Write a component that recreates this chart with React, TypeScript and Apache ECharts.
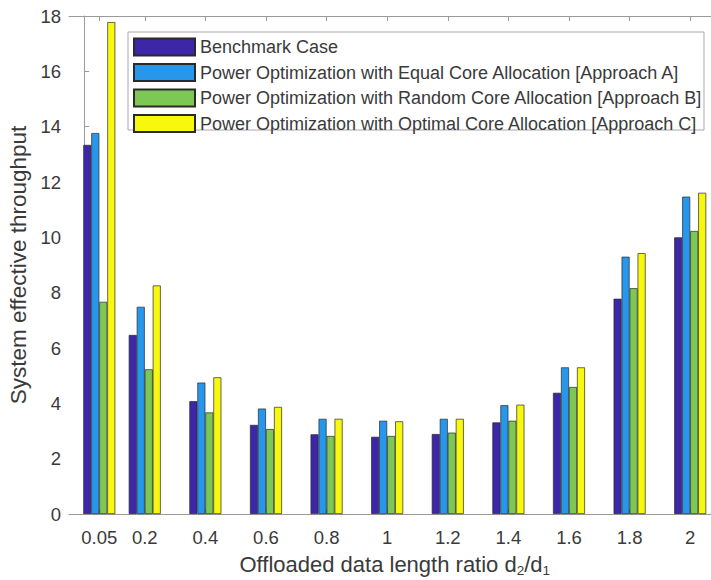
import React, { useEffect, useRef } from "react";
import * as echarts from "echarts";

const ratios = [0.05, 0.2, 0.4, 0.6, 0.8, 1, 1.2, 1.4, 1.6, 1.8, 2];
const benchmark = [13.34, 6.47, 4.08, 3.22, 2.88, 2.79, 2.89, 3.31, 4.38, 7.78, 10.0];
const approachA = [13.77, 7.49, 4.75, 3.81, 3.44, 3.37, 3.44, 3.93, 5.3, 9.3, 11.47];
const approachB = [7.67, 5.23, 3.67, 3.07, 2.82, 2.82, 2.94, 3.37, 4.59, 8.16, 10.23];
const approachC = [17.78, 8.26, 4.94, 3.87, 3.44, 3.35, 3.44, 3.95, 5.3, 9.43, 11.61];
const yTicks = [0, 2, 4, 6, 8, 10, 12, 14, 16, 18];

const seriesNames = [
  "Benchmark Case",
  "Power Optimization with Equal Core Allocation [Approach A]",
  "Power Optimization with Random Core Allocation [Approach B]",
  "Power Optimization with Optimal Core Allocation [Approach C]",
];
const seriesValues = [benchmark, approachA, approachB, approachC];
const colors = ["#3e26a8", "#2797eb", "#7dc855", "#f7f80e"];

const FONT = "Liberation Sans, Arial, Helvetica, sans-serif";
const AXIS_COLOR = "#9a9a9a";
const TEXT_COLOR = "#3a3a3a";

export default function App() {
  const ref = useRef<HTMLDivElement>(null);
  useEffect(() => {
    document.body.style.margin = "0";
    if (!ref.current) return;
    const chart = echarts.init(ref.current, undefined, { renderer: "svg" });
    const option: any = {
      animation: false,
      backgroundColor: "#ffffff",
      textStyle: { fontFamily: FONT },
      grid: { left: 69, right: -9.5, top: 16, bottom: 66, containLabel: false, outerBoundsMode: "none" },
      legend: {
        orient: "vertical",
        left: 133,
        top: 37.5,
        padding: 0,
        itemWidth: 61,
        itemHeight: 17,
        itemGap: 6.5,
        icon: "rect",
        textStyle: { fontFamily: FONT, fontSize: 18, color: TEXT_COLOR },
        data: seriesNames,
      },
      graphic: [
        {
          type: "rect",
          z: 0,
          shape: { x: 128, y: 32, width: 576, height: 98 },
          style: { fill: "#ffffff", stroke: "#a8a8a8", lineWidth: 1 },
        },
      ],
      xAxis: [
        {
          type: "value",
          min: -0.05,
          max: 2.1,
          position: "bottom",
          splitLine: { show: false },
          axisLine: { show: true, lineStyle: { color: AXIS_COLOR, width: 1 } },
          axisTick: { show: true, inside: true, length: 5, customValues: ratios, lineStyle: { color: AXIS_COLOR } },
          axisLabel: {
            show: true,
            customValues: ratios,
            formatter: (v: number) => String(v),
            fontSize: 18.5,
            color: TEXT_COLOR,
            fontFamily: FONT,
            margin: 14,
          },
          name: "Offloaded data length ratio d{sub|2}/d{sub|1}",
          nameLocation: "middle",
          nameGap: 37,
          nameTextStyle: {
            fontSize: 22,
            color: TEXT_COLOR,
            fontFamily: FONT,
            rich: {
              sub: { fontSize: 13.5, fontFamily: FONT, color: TEXT_COLOR, verticalAlign: "bottom", padding: [12, 0, 0, 0] },
            },
          },
        },
        {
          type: "value",
          min: -0.05,
          max: 2.1,
          position: "top",
          splitLine: { show: false },
          axisLine: { show: true, lineStyle: { color: AXIS_COLOR, width: 1 } },
          axisTick: { show: true, inside: true, length: 5, customValues: ratios, lineStyle: { color: AXIS_COLOR } },
          axisLabel: { show: false },
        },
      ],
      yAxis: {
        type: "value",
        min: 0,
        max: 18,
        interval: 2,
        splitLine: { show: false },
        axisLine: { show: true, lineStyle: { color: AXIS_COLOR, width: 1 } },
        axisTick: { show: true, inside: true, length: 5, lineStyle: { color: AXIS_COLOR } },
        axisLabel: {
          customValues: yTicks,
          fontSize: 18.5,
          color: TEXT_COLOR,
          fontFamily: FONT,
          margin: 8,
        },
        name: "System effective throughput",
        nameLocation: "middle",
        nameGap: 39,
        nameTextStyle: { fontSize: 22.5, color: TEXT_COLOR, fontFamily: FONT },
      },
      series: seriesNames.map((name, i) => ({
        name,
        type: "bar",
        xAxisIndex: 0,
        barWidth: 8,
        barGap: "0%",
        itemStyle: { color: colors[i], borderColor: "#2a2a2a", borderWidth: 0.7 },
        data: ratios.map((x, j) => [x, seriesValues[i][j]]),
      })),
    };
    chart.setOption(option);
    return () => chart.dispose();
  }, []);
  return <div ref={ref} style={{ width: 711, height: 580 }} />;
}
